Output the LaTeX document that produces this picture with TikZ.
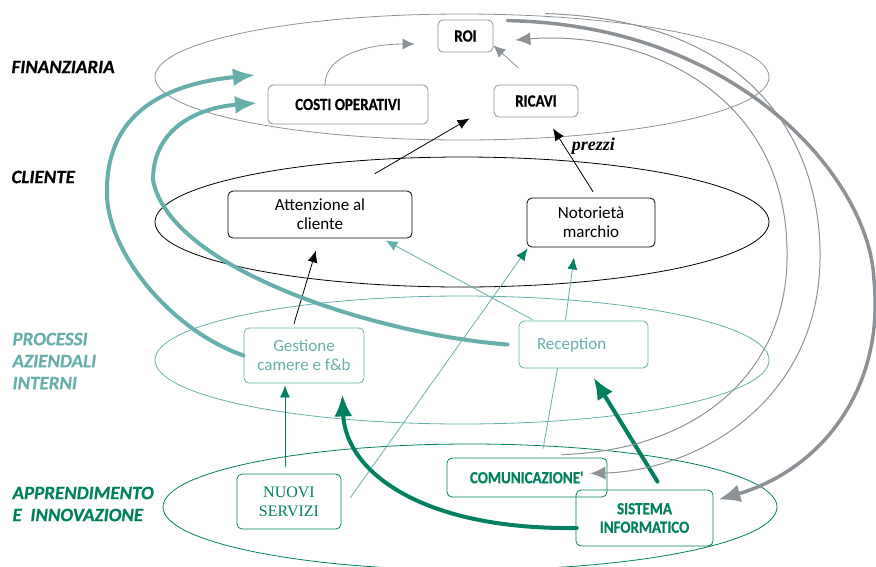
\documentclass[tikz,border=0pt]{standalone}
\usepackage{fontspec}
\setmainfont{Carlito}
\newfontfamily\timesfont{Liberation Serif}
\usetikzlibrary{calc}
\usetikzlibrary{arrows.meta}

\definecolor{fingray}{HTML}{8C9196}
\definecolor{proteal}{HTML}{66AFAA}
\definecolor{appgreen}{HTML}{00805F}

\begin{document}
\begin{tikzpicture}[x=1pt, y=-1pt, line cap=round, line join=round,
  box/.style={draw, rounded corners=5pt, line width=0.8pt, align=center, inner sep=0pt,
    font=\fontsize{17}{19}\selectfont},
  boldbox/.style={box, font=\fontsize{17}{18.5}\selectfont\bfseries\addfontfeature{FakeStretch=0.88,FakeBold=0.6}},
  level/.style={anchor=west, align=left, font=\fontsize{19}{22}\selectfont\bfseries\itshape\addfontfeature{FakeBold=0.5}},
  thinarrow/.style={line width=0.8pt, -{Latex[length=12pt, width=10pt]}},
  grayarrow/.style={line width=1pt, fingray, -{Latex[length=15pt, width=13pt]}},
  thickarrow/.style={line width=4pt, -{Latex[length=22pt, width=18pt]}},
]
  % Fix the page size
  \useasboundingbox (0,0) rectangle (876,566);

  % Draw the four perspectives
  \draw[fingray, line width=0.8pt] (462,77) ellipse [x radius=307, y radius=63];
  \draw[black, line width=0.8pt] (462,222) ellipse [x radius=307, y radius=65];
  \draw[proteal, line width=0.8pt] (462,360) ellipse [x radius=307, y radius=64];
  \draw[appgreen, line width=0.8pt] (470,507) ellipse [x radius=307, y radius=63];

  % Label the perspectives
  \node[level] (lfin) at (8,67) {FINANZIARIA};
  \node[level] (lcli) at (8,177) {CLIENTE};
  \node[level, proteal] (lpro) at (9,361) {PROCESSI\\AZIENDALI\\INTERNI};
  \node[level, appgreen] (lapp) at (9,504) {APPRENDIMENTO\\E\ \ INNOVAZIONE};

  % Draw the boxes
  \node[boldbox, draw=fingray, minimum width=55pt, minimum height=32pt] (roi) at (465.5,36) {ROI};
  \node[boldbox, draw=fingray, minimum width=160pt, minimum height=39pt] (costi) at (348,104.5) {COSTI OPERATIVI};
  \node[boldbox, draw=fingray, minimum width=84pt, minimum height=32pt] (ricavi) at (536,101) {RICAVI};
  \node[box, minimum width=184pt, minimum height=47pt] (attenzione) at (320,214.5) {Attenzione al\\cliente};
  \node[box, minimum width=128pt, minimum height=49pt] (notorieta) at (591,222.5) {Notorietà\\marchio};
  \node[box, draw=proteal, text=proteal, minimum width=120pt, minimum height=55pt] (gestione) at (304,355.5) {Gestione\\camere e f\&b};
  \node[box, draw=proteal, text=proteal, inner xsep=18pt, text width=93pt, align=left, minimum height=47pt] (reception) at (583.5,344.5) {Reception};
  \node[boldbox, draw=appgreen, text=appgreen, minimum width=160pt, minimum height=39pt] (comunicazione) at (527,477.5) {COMUNICAZIONE\textquotesingle};
  \node[boldbox, draw=appgreen, text=appgreen, minimum width=137pt, minimum height=56pt] (sistema) at (644.5,518) {SISTEMA\\INFORMATICO};
  \node[box, draw=appgreen, text=appgreen, font=\fontsize{16}{19}\timesfont, minimum width=104pt, minimum height=55pt] (nuovi) at (289,501.5) {NUOVI\\SERVIZI};

  % Free ends of the long loops
  \coordinate (fin1) at (255,75);
  \coordinate (fin2) at (257,103);

  % Draw the arrows inside the financial level
  \draw[grayarrow, line width=0.8pt, -{Latex[length=12pt, width=11pt]}] ([xshift=-23pt]costi.north)
    .. controls +(0,-30) and +(-45,0) .. ($(roi.west)+(-23,8)$);
  \draw[grayarrow, line width=0.8pt, -{Latex[length=12pt, width=11pt]}] ($(ricavi.north)+(-18,-17)$) -- ($(roi.south east)+(0,-7)$);

  % Draw the arrows from the customer level
  \draw[thinarrow] ($(attenzione.north)+(55,-17)$) -- ($(ricavi.south west)+(-24,1)$);
  \draw[thinarrow] ($(notorieta.north)+(2,-6)$) -- node[pos=0.72, right=4pt, font=\fontsize{18}{20}\timesfont\bfseries\itshape] {prezzi} ($(ricavi.south)+(17,11)$);

  % Draw the arrows from the internal processes
  \draw[thinarrow] ($(gestione.north)+(-10,-4)$) -- ($(attenzione.south)+(-4,12)$);
  \draw[thinarrow, proteal] ($(reception.north west)+(14,-1)$) -- ($(attenzione.south east)+(-27,2)$);
  \draw[thinarrow, proteal, -{Latex[length=12pt, width=10pt, color=appgreen]}] ($(reception.north)+(-18,-1)$) -- ($(notorieta.south)+(-17,10)$);

  % Draw the arrows from learning and innovation
  \draw[thinarrow, proteal, -{Latex[length=12pt, width=10pt, color=appgreen]}] ($(nuovi.east)+(9,-4)$) -- ($(notorieta.south west)+(1,1)$);
  \draw[thinarrow, appgreen] ($(nuovi.north)+(-4,-7)$) -- ($(gestione.south)+(-19,2)$);
  \draw[proteal, line width=0.8pt] ($(comunicazione.north)+(16,-9)$) -- ($(reception.south)+(-26,0)$);
  \draw[thickarrow, appgreen] ($(sistema.north)+(13,-8)$) -- ($(reception.south)+(10,9)$);
  \draw[thickarrow, appgreen] ($(sistema.west)+(1,10)$)
    .. controls +(-157,2) and +(3,76) .. ($(gestione.south east)+(-22,11)$);

  % Draw the long loops back to the financial level
  \draw[thickarrow, proteal] (gestione.west) .. controls (170,330) and (105,250) .. (107,190)
    .. controls (107,120) and (155,85) .. (fin1);
  \draw[thickarrow, proteal] ($(reception.west)+(-11,0)$) .. controls (380,335) and (170,270) .. (153,180)
    .. controls (153,130) and (195,108) .. (fin2);

  % Draw the gray loops on the right
  \draw[thickarrow, fingray, line width=3.5pt] ($(roi.north east)+(14,1)$) .. controls (740,25) and (870,180) .. (874,280)
    .. controls (885,390) and (820,470) .. ($(sistema.north east)+(5,10)$);
  \draw[grayarrow] ($(comunicazione.north)+(35,-3)$) .. controls (700,450) and (790,370) .. (787,250)
    .. controls (785,90) and (640,30) .. ($(roi.east)+(22,4)$);
  \draw[grayarrow] ($(roi.north east)+(52,-6)$) .. controls (760,20) and (822,150) .. (820,260)
    .. controls (818,400) and (700,470) .. ($(comunicazione.east)+(-17,-4)$);
\end{tikzpicture}
\end{document}
